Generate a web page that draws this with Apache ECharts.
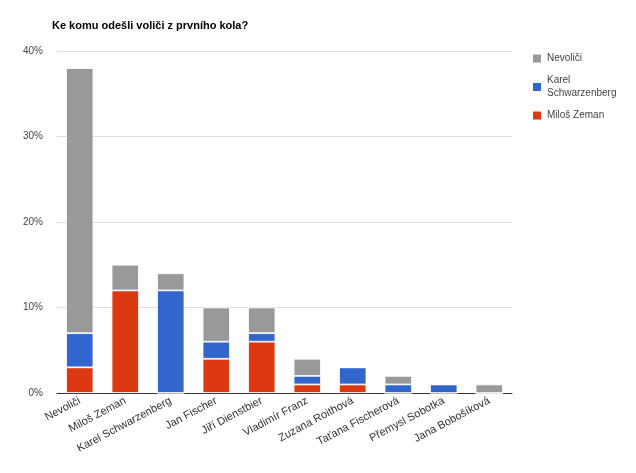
<!DOCTYPE html>
<html><head><meta charset="utf-8">
<script src="https://cdn.jsdelivr.net/npm/echarts@6/dist/echarts.min.js"></script>
<style>html,body{margin:0;padding:0;background:#fff}#c{width:636px;height:473px}</style>
</head><body><div id="c"></div>
<script>
var categories = ["Nevoliči","Miloš Zeman","Karel Schwarzenberg","Jan Fischer","Jiří Dienstbier","Vladimír Franz","Zuzana Roithová","Taťana Fischerová","Přemysl Sobotka","Jana Bobošíková"];
var zeman = [3,12,0,4,6,1,1,0,0,0];
var schwarzenberg = [4,0,12,2,1,1,2,1,1,0];
var nevolici = [31,3,2,4,3,2,0,1,0,1];
var yTicks = [0,10,20,30,40];

var chart = echarts.init(document.getElementById('c'));
var common = {type:'bar', stack:'s', barWidth:'60%', itemStyle:{borderColor:'#fff', borderWidth:0.8}};
chart.setOption({
  animation:false,
  title:{text:'Ke komu odešli voliči z prvního kola?', left:47, top:15,
    textStyle:{fontFamily:'Arial, Liberation Sans', fontSize:11, fontWeight:'bold', color:'#000'}},
  legend:{orient:'vertical', left:526, top:47, icon:'rect', itemWidth:10, itemHeight:10, itemGap:9,
    data:['Nevoliči','Karel Schwarzenberg','Miloš Zeman'],
    formatter:function(n){return n==='Karel Schwarzenberg'?'Karel\nSchwarzenberg':n;},
    textStyle:{fontFamily:'Arial, Liberation Sans', fontSize:10, color:'#444', lineHeight:13}},
  grid:{left:57, right:124, top:51, bottom:80},
  xAxis:{type:'category', data:categories,
    axisLine:{lineStyle:{color:'#333'}}, axisTick:{show:false},
    axisLabel:{rotate:28, interval:0, fontFamily:'Arial, Liberation Sans', fontSize:11, color:'#333', margin:7}},
  yAxis:{type:'value', min:yTicks[0], max:yTicks[yTicks.length-1], interval:10,
    axisLabel:{formatter:'{value}%', fontFamily:'Arial, Liberation Sans', fontSize:10, color:'#444', margin:14},
    axisLine:{show:false}, axisTick:{show:false},
    splitLine:{lineStyle:{color:'#ddd'}}},
  series:[
    Object.assign({name:'Miloš Zeman', data:zeman, color:'#dc3912'}, common),
    Object.assign({name:'Karel Schwarzenberg', data:schwarzenberg, color:'#3366cc'}, common),
    Object.assign({name:'Nevoliči', data:nevolici, color:'#999999'}, common)
  ]
});
</script></body></html>
